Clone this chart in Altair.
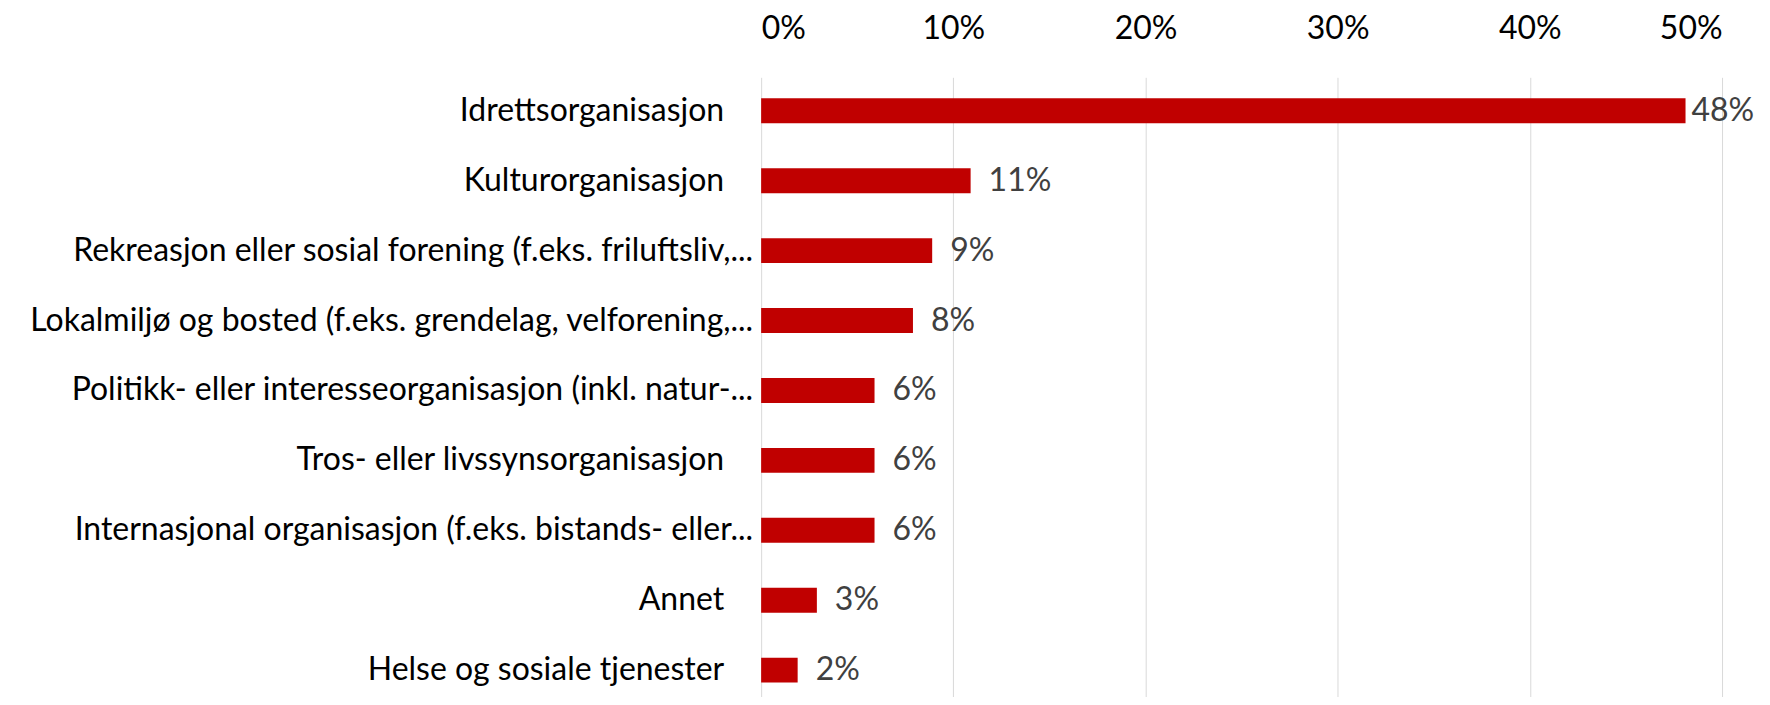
import altair as alt
import pandas as pd

categories = [
    "Idrettsorganisasjon",
    "Kulturorganisasjon",
    "Rekreasjon eller sosial forening (f.eks. friluftsliv,...",
    "Lokalmiljø og bosted (f.eks. grendelag, velforening,...",
    "Politikk- eller interesseorganisasjon (inkl. natur-...",
    "Tros- eller livssynsorganisasjon",
    "Internasjonal organisasjon (f.eks. bistands- eller...",
    "Annet",
    "Helse og sosiale tjenester",
]
values = [48.1, 10.9, 8.9, 7.9, 5.9, 5.9, 5.9, 2.9, 1.9]
value_labels = ["48%", "11%", "9%", "8%", "6%", "6%", "6%", "3%", "2%"]
tick_values = [0, 10, 20, 30, 40, 50]

df = pd.DataFrame({"cat": categories, "value": values, "label": value_labels})

FONT = "Lato"
FS = 32

y = alt.Y(
    "cat:N",
    sort=categories,
    axis=None,
    scale=alt.Scale(paddingInner=0.643, paddingOuter=0.25, align=0.6),
)

base = alt.Chart(df)

bars = base.mark_bar(color="#C00000").encode(
    x=alt.X(
        "value:Q",
        scale=alt.Scale(domain=[0, 50], nice=False),
        axis=alt.Axis(
            orient="top",
            values=tick_values,
            labelExpr="datum.value + '%'",
            grid=True,
            gridColor="#d9d9d9",
            gridWidth=1,
            domain=False,
            ticks=False,
            labelFont=FONT,
            labelFontSize=FS,
            labelColor="#000000",
            labelPadding=32,
            title=None,
        ),
    ),
    y=y,
)

value_text = base.transform_filter("datum.value <= 40").mark_text(
    align="left", baseline="middle", dx=18, font=FONT, fontSize=FS, color="#404040"
).encode(x="value:Q", y=y, text="label:N")

value_text_big = base.transform_filter("datum.value > 40").mark_text(
    align="left", baseline="middle", dx=6, font=FONT, fontSize=FS, color="#404040"
).encode(x="value:Q", y=y, text="label:N")

cat_full = base.transform_filter("indexof(datum.cat, '...') < 0").mark_text(
    align="right", baseline="middle", dx=-37, font=FONT, fontSize=FS, color="#000000"
).encode(x=alt.value(0), y=y, text="cat:N")

cat_trunc = base.transform_filter("indexof(datum.cat, '...') >= 0").mark_text(
    align="right", baseline="middle", dx=-8, font=FONT, fontSize=FS, color="#000000"
).encode(x=alt.value(0), y=y, text="cat:N")

chart = (
    alt.layer(bars, value_text, value_text_big, cat_full, cat_trunc)
    .properties(
        width=962,
        height=620,
        autosize=alt.AutoSizeParams(type="none"),
        padding={"left": 754, "top": 69, "right": 40, "bottom": 0},
        background="white",
    )
    .configure_view(stroke=None)
)

chart.save("out.html", embed_options={"renderer": "svg", "actions": False})
